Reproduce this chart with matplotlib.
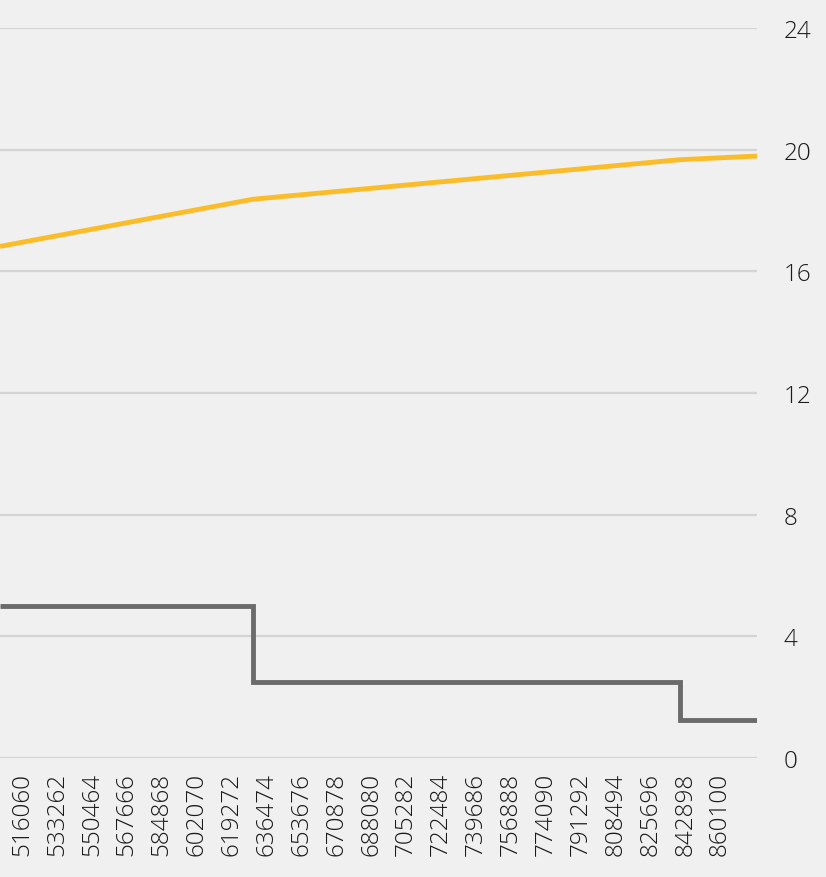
import numpy as np
import matplotlib.pyplot as plt

# tick labels on x (every 17202)
x_ticks = [516060, 533262, 550464, 567666, 584868, 602070, 619272, 636474,
           653676, 670878, 688080, 705282, 722484, 739686, 756888, 774090,
           791292, 808494, 825696, 842898, 860100]
y_ticks = [0, 4, 8, 12, 16, 20, 24]

# yellow series (breakpoints)
yellow_x = [505200, 629900, 840300, 878300]
yellow_y = [16.82, 18.37, 19.67, 19.79]

# gray step series
step_x = [505200, 629900, 840300, 878300]
step_y = [5.0, 2.5, 1.25, 1.25]

bg = '#eff0ef'
plt.rcParams['font.family'] = ['Open Sans', 'DejaVu Sans']

fig = plt.figure(figsize=(8.26, 8.78), dpi=100, facecolor=bg)
ax = fig.add_axes([0.0, 1 - 759 / 878, 757 / 826, (759 - 29) / 878])
ax.set_facecolor(bg)

for v in y_ticks:
    ax.axhline(v, color='#d3d4d3', lw=1.6, zorder=1)

ax.plot(yellow_x, yellow_y, color='#fbbc2a', lw=3.5, zorder=3,
        solid_capstyle='butt')
ax.plot(step_x, step_y, color='#6b6b6b', lw=3.5, drawstyle='steps-post',
        zorder=3, solid_capstyle='butt', solid_joinstyle='miter')

ax.set_xlim(505200, 878300)
ax.set_ylim(0, 24)

ax.yaxis.tick_right()
ax.set_yticks(y_ticks)
ax.set_yticklabels([str(v) for v in y_ticks])
ax.set_xticks(x_ticks)
ax.set_xticklabels([str(v) for v in x_ticks], rotation=90)
ax.tick_params(axis='both', length=0, labelsize=17.5, colors='#1a1a1a')
ax.tick_params(axis='y', pad=19)
ax.tick_params(axis='x', pad=10)
for lab in ax.get_xticklabels() + ax.get_yticklabels():
    lab.set_fontweight('light')

for s in ax.spines.values():
    s.set_visible(False)

fig.savefig('out.png', dpi=100, facecolor=bg)
